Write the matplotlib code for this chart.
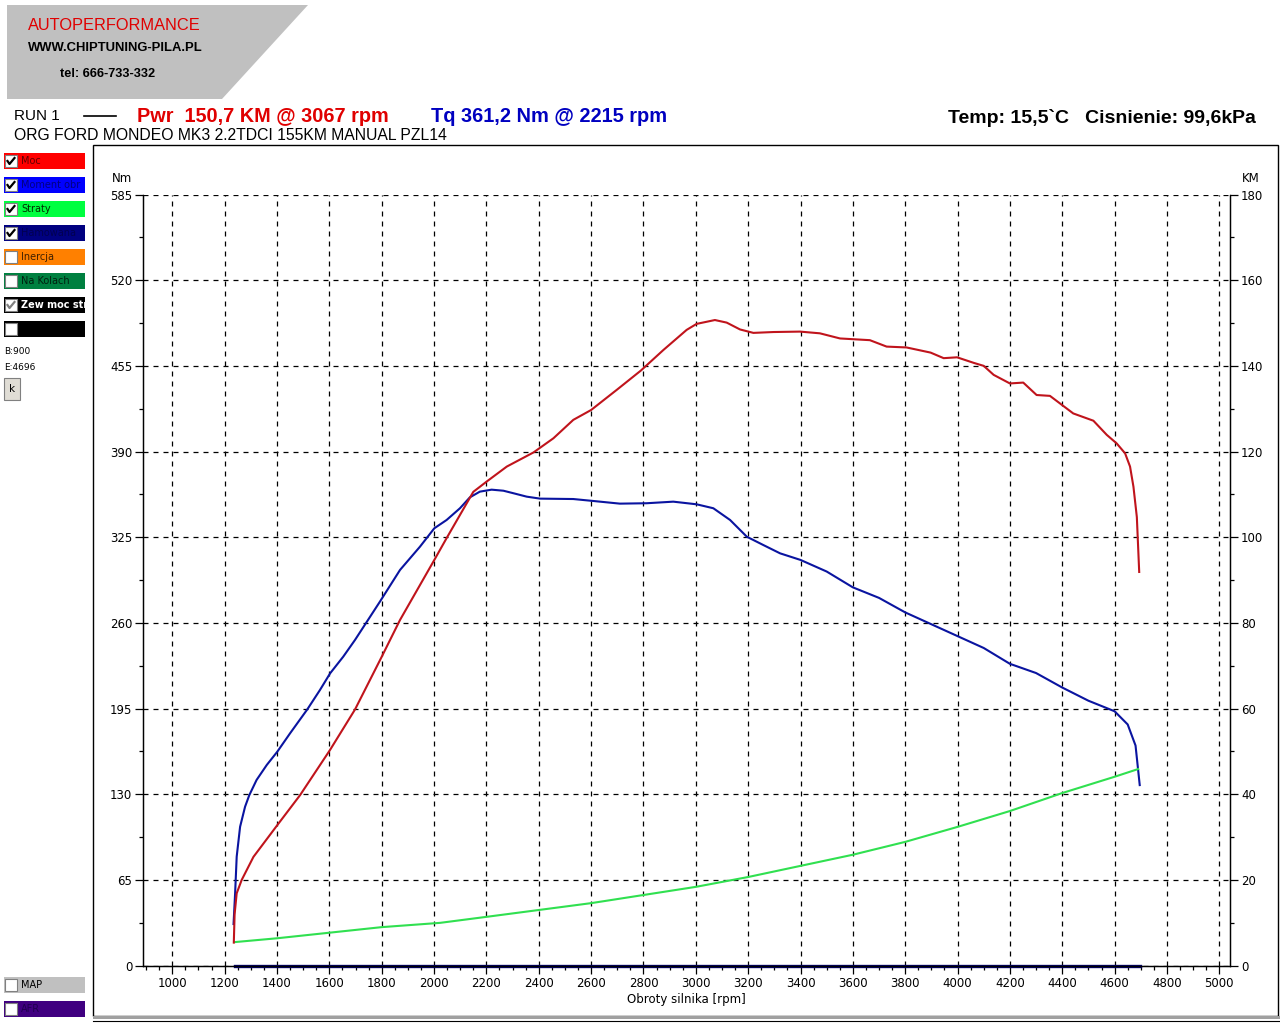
import matplotlib
matplotlib.use('Agg')
import matplotlib.pyplot as plt
from matplotlib.patches import Rectangle, Polygon
from matplotlib.lines import Line2D
import numpy as np

# ---------------- data ----------------
power_rpm = [1235, 1238, 1246, 1265, 1310, 1401, 1488, 1602, 1698, 1800, 1870, 2001, 2048,
             2150, 2201, 2278, 2380, 2456, 2532, 2600, 2700, 2790, 2876, 2965, 3003, 3073,
             3118, 3169, 3220, 3297, 3398, 3474, 3551, 3665, 3729, 3805, 3897, 3947, 3998,
             4062, 4100, 4138, 4200, 4251, 4302, 4353, 4442, 4519, 4570, 4608, 4640, 4659,
             4672, 4685, 4694]
power_km = [5.4, 12.0, 16.9, 20.0, 25.4, 32.8, 39.8, 50.3, 59.8, 72.1, 80.7, 94.7, 99.8,
            110.6, 113.0, 116.5, 119.8, 123.1, 127.4, 129.7, 134.5, 138.9, 143.7, 148.4, 149.8,
            150.7, 150.1, 148.5, 147.7, 147.9, 148.0, 147.6, 146.4, 146.0, 144.5, 144.3, 143.1,
            141.8, 142.0, 140.7, 140.0, 137.9, 135.9, 136.1, 133.2, 133.0, 128.9, 127.2, 123.9,
            121.9, 119.6, 116.5, 111.8, 104.7, 91.9]

torque_rpm = [1234, 1240, 1246, 1259, 1278, 1294, 1322, 1361, 1401, 1450, 1516, 1564, 1603,
              1653, 1698, 1793, 1870, 1946, 2001, 2048, 2099, 2137, 2175, 2220, 2265, 2303,
              2354, 2405, 2532, 2609, 2710, 2812, 2914, 3003, 3067, 3131, 3195, 3258, 3322,
              3400, 3500, 3600, 3700, 3800, 3900, 4000, 4100, 4200, 4300, 4400, 4500, 4600,
              4650, 4680, 4696]
torque_nm = [31.6, 55.0, 82.7, 105.4, 120.6, 129.3, 140.9, 152.3, 162.3, 176.3, 194.5, 209.1,
             221.8, 234.4, 247.1, 276.1, 300.2, 317.8, 331.8, 338.1, 347.0, 355.3, 359.6, 361.1,
             360.3, 358.4, 355.8, 354.3, 354.0, 352.5, 350.5, 350.8, 352.0, 350.0, 347.0, 338.1,
             325.4, 319.1, 312.8, 307.8, 299.0, 287.0, 279.0, 268.0, 259.0, 250.0, 241.0, 229.0,
             222.0, 211.0, 201.0, 193.0, 183.0, 167.0, 137.0]

loss_rpm = [1237, 1400, 1800, 2023, 2200, 2400, 2600, 2800, 3000, 3200, 3400, 3600, 3800,
            4000, 4200, 4400, 4600, 4690]
loss_km = [5.5, 6.4, 9.0, 10.0, 11.4, 13.0, 14.6, 16.5, 18.4, 20.7, 23.3, 25.9, 28.9,
           32.4, 36.1, 40.3, 44.1, 45.9]

brake_rpm = [1240, 4696]
brake_val = [0, 0]

x_major = list(range(1000, 5001, 200))
x_minor = list(range(900, 5041, 50))
nm_ticks = [0, 65, 130, 195, 260, 325, 390, 455, 520, 585]
nm_minor = [32.5, 97.5, 162.5, 227.5, 292.5, 357.5, 422.5, 487.5, 552.5]
km_ticks = [0, 20, 40, 60, 80, 100, 120, 140, 160, 180]
km_minor = [10, 30, 50, 70, 90, 110, 130, 150, 170]

legend_labels = ['Moc', 'Moment obr', 'Straty', 'Hamowana', 'Inercja', 'Na Kolach', 'Zew moc str', '']
legend_colors = ['#ff0000', '#0000ff', '#00ff40', '#000080', '#ff8000', '#008040', '#000000', '#000000']
legend_text_colors = ['#600000', '#000080', '#003000', '#000050', '#402000', '#002010', '#ffffff', '#ffffff']
legend_checked = [True, True, True, True, False, False, True, False]

# ---------------- figure ----------------
W, H = 1280, 1024
fig = plt.figure(figsize=(12.8, 10.24), dpi=100)
fig.patch.set_facecolor('white')

bg = fig.add_axes([0, 0, 1, 1], zorder=0)
bg.set_xlim(0, W)
bg.set_ylim(H, 0)
bg.axis('off')

# Logo
bg.add_patch(Polygon([(7, 5), (308, 5), (222, 99), (7, 99)], closed=True,
                     facecolor='#c0c0c0', edgecolor='none'))
bg.text(28, 25, 'AUTOPERFORMANCE', color='#e00000', fontsize=11.8, family='Liberation Sans',
        va='center', ha='left')
bg.text(28, 48, 'WWW.CHIPTUNING-PILA.PL', color='black', fontsize=9.4, fontweight='bold',
        family='Liberation Sans', va='center', ha='left')
bg.text(60, 74, 'tel: 666-733-332', color='black', fontsize=9.2, fontweight='bold',
        family='Liberation Sans', va='center', ha='left')

# Header
bg.text(14, 116, 'RUN 1', color='black', fontsize=11, family='Liberation Sans', va='center')
bg.add_line(Line2D([84, 116], [116, 116], color='black', lw=1.2))
bg.text(137, 117, 'Pwr  150,7 KM @ 3067 rpm', color='#e00000', fontsize=14.35, fontweight='bold',
        family='Liberation Sans', va='center')
bg.text(431, 117, 'Tq 361,2 Nm @ 2215 rpm', color='#0000c0', fontsize=14.4, fontweight='bold',
        family='Liberation Sans', va='center')
bg.text(1256, 118, 'Temp: 15,5`C   Cisnienie: 99,6kPa', color='black', fontsize=14,
        fontweight='bold', family='Liberation Sans', va='center', ha='right')
bg.text(14, 136, 'ORG FORD MONDEO MK3 2.2TDCI 155KM MANUAL PZL14', color='black', fontsize=11.3,
        family='Liberation Sans', va='center')

# Frame around chart
bg.add_patch(Rectangle((93, 145), 1278 - 93, 1016 - 145, facecolor='white',
                       edgecolor='black', lw=1.0))
bg.add_patch(Rectangle((93, 1016), 1280 - 93, 3, facecolor='#a0a0a0', edgecolor='none'))
bg.add_line(Line2D([93, 1280], [1021, 1021], color='black', lw=0.8))


def checkbox(x, y, checked, gray=False):
    bg.add_patch(Rectangle((x, y), 12, 12, facecolor='white', edgecolor='#808080', lw=0.8))
    if checked:
        c = '#808080' if gray else 'black'
        bg.add_line(Line2D([x + 2.5, x + 4.5, x + 9.5], [y + 6, y + 9, y + 3], color=c, lw=1.6))


# Sidebar legend
for i, (lab, col, tcol, chk) in enumerate(zip(legend_labels, legend_colors,
                                              legend_text_colors, legend_checked)):
    top = 153 + 24 * i
    bg.add_patch(Rectangle((4, top), 81, 16, facecolor=col, edgecolor='none'))
    checkbox(5, top + 2, chk, gray=(i == 6))
    bg.text(21, top + 8.5, lab, color=tcol, fontsize=7, family='DejaVu Sans', va='center',
            ha='left', fontweight='bold' if i == 6 else 'normal', clip_on=True)

bg.text(4, 352, 'B:900', fontsize=6.5, family='DejaVu Sans', va='center')
bg.text(4, 368, 'E:4696', fontsize=6.5, family='DejaVu Sans', va='center')
bg.add_patch(Rectangle((4, 378), 16, 22, facecolor='#e0ddd5', edgecolor='#808080', lw=0.8))
bg.text(12, 389, 'k', fontsize=7.5, family='DejaVu Sans', va='center', ha='center')

bg.add_patch(Rectangle((4, 977), 81, 16, facecolor='#c0c0c0', edgecolor='none'))
checkbox(5, 979, False)
bg.text(21, 985, 'MAP', fontsize=7, family='DejaVu Sans', va='center', color='black')
bg.add_patch(Rectangle((4, 1001), 81, 16, facecolor='#400080', edgecolor='none'))
checkbox(5, 1003, False)
bg.text(21, 1009, 'AFR', fontsize=7, family='DejaVu Sans', va='center', color='#200050')

# Axis unit labels
bg.text(122, 179, 'Nm', fontsize=8.5, family='DejaVu Sans', va='center', ha='center')
bg.text(1251, 179, 'KM', fontsize=8.5, family='DejaVu Sans', va='center', ha='center')
bg.text(686, 999, 'Obroty silnika [rpm]', fontsize=8.5, family='DejaVu Sans', va='center',
        ha='center')

# ---------------- main axes ----------------
left_px, right_px, top_px, bot_px = 143.3, 1230.0, 194.5, 965.7
ax = fig.add_axes([left_px / W, 1 - bot_px / H, (right_px - left_px) / W, (bot_px - top_px) / H],
                  zorder=2)
ax.set_facecolor('none')
px_per_rpm = (1219.3 - 172.3) / 4000.0
ax.set_xlim(1000 + (left_px - 172.3) / px_per_rpm, 5000 + (right_px - 1219.3) / px_per_rpm)
ax.set_ylim(0, 585)

ax2 = ax.twinx()
ax2.set_ylim(0, 180)

for a in (ax, ax2):
    a.spines['top'].set_visible(False)
    for s in ('left', 'right', 'bottom'):
        a.spines[s].set_linewidth(0.9)
        a.spines[s].set_color('black')

ax.set_xticks(x_major)
ax.set_xticks(x_minor, minor=True)
ax.set_xticklabels([str(v) for v in x_major])
ax.set_yticks(nm_ticks)
ax.set_yticks(nm_minor, minor=True)
ax.set_yticklabels([str(v) for v in nm_ticks])
ax2.set_yticks(km_ticks)
ax2.set_yticks(km_minor, minor=True)
ax2.set_yticklabels([str(v) for v in km_ticks])

ax.tick_params(axis='both', which='major', direction='out', length=6, width=0.9,
               labelsize=8.5, pad=2)
ax.tick_params(axis='both', which='minor', direction='out', length=3, width=0.9)
ax.tick_params(axis='y', which='both', left=True, right=False)
ax2.tick_params(axis='y', which='major', direction='out', length=6, width=0.9,
                labelsize=8.5, pad=2, right=True, left=False)
ax2.tick_params(axis='y', which='minor', direction='out', length=3, width=0.9,
                right=True, left=False)
for lab in ax.get_xticklabels() + ax.get_yticklabels() + ax2.get_yticklabels():
    lab.set_family('DejaVu Sans')

ax.grid(True, which='major', color='black', linestyle=(0, (4, 4)), linewidth=0.9)
ax.set_axisbelow(True)

# curves
ax.plot(brake_rpm, brake_val, color='#000060', lw=2.4, clip_on=False, zorder=3)
ax.plot(torque_rpm, torque_nm, color='#0a14a0', lw=1.5, zorder=4)
ax2.plot(loss_rpm, loss_km, color='#30e050', lw=1.5, zorder=4)
ax2.plot(power_rpm, power_km, color='#c0141c', lw=1.5, zorder=5)

fig.savefig('out.png', dpi=100, facecolor='white')
